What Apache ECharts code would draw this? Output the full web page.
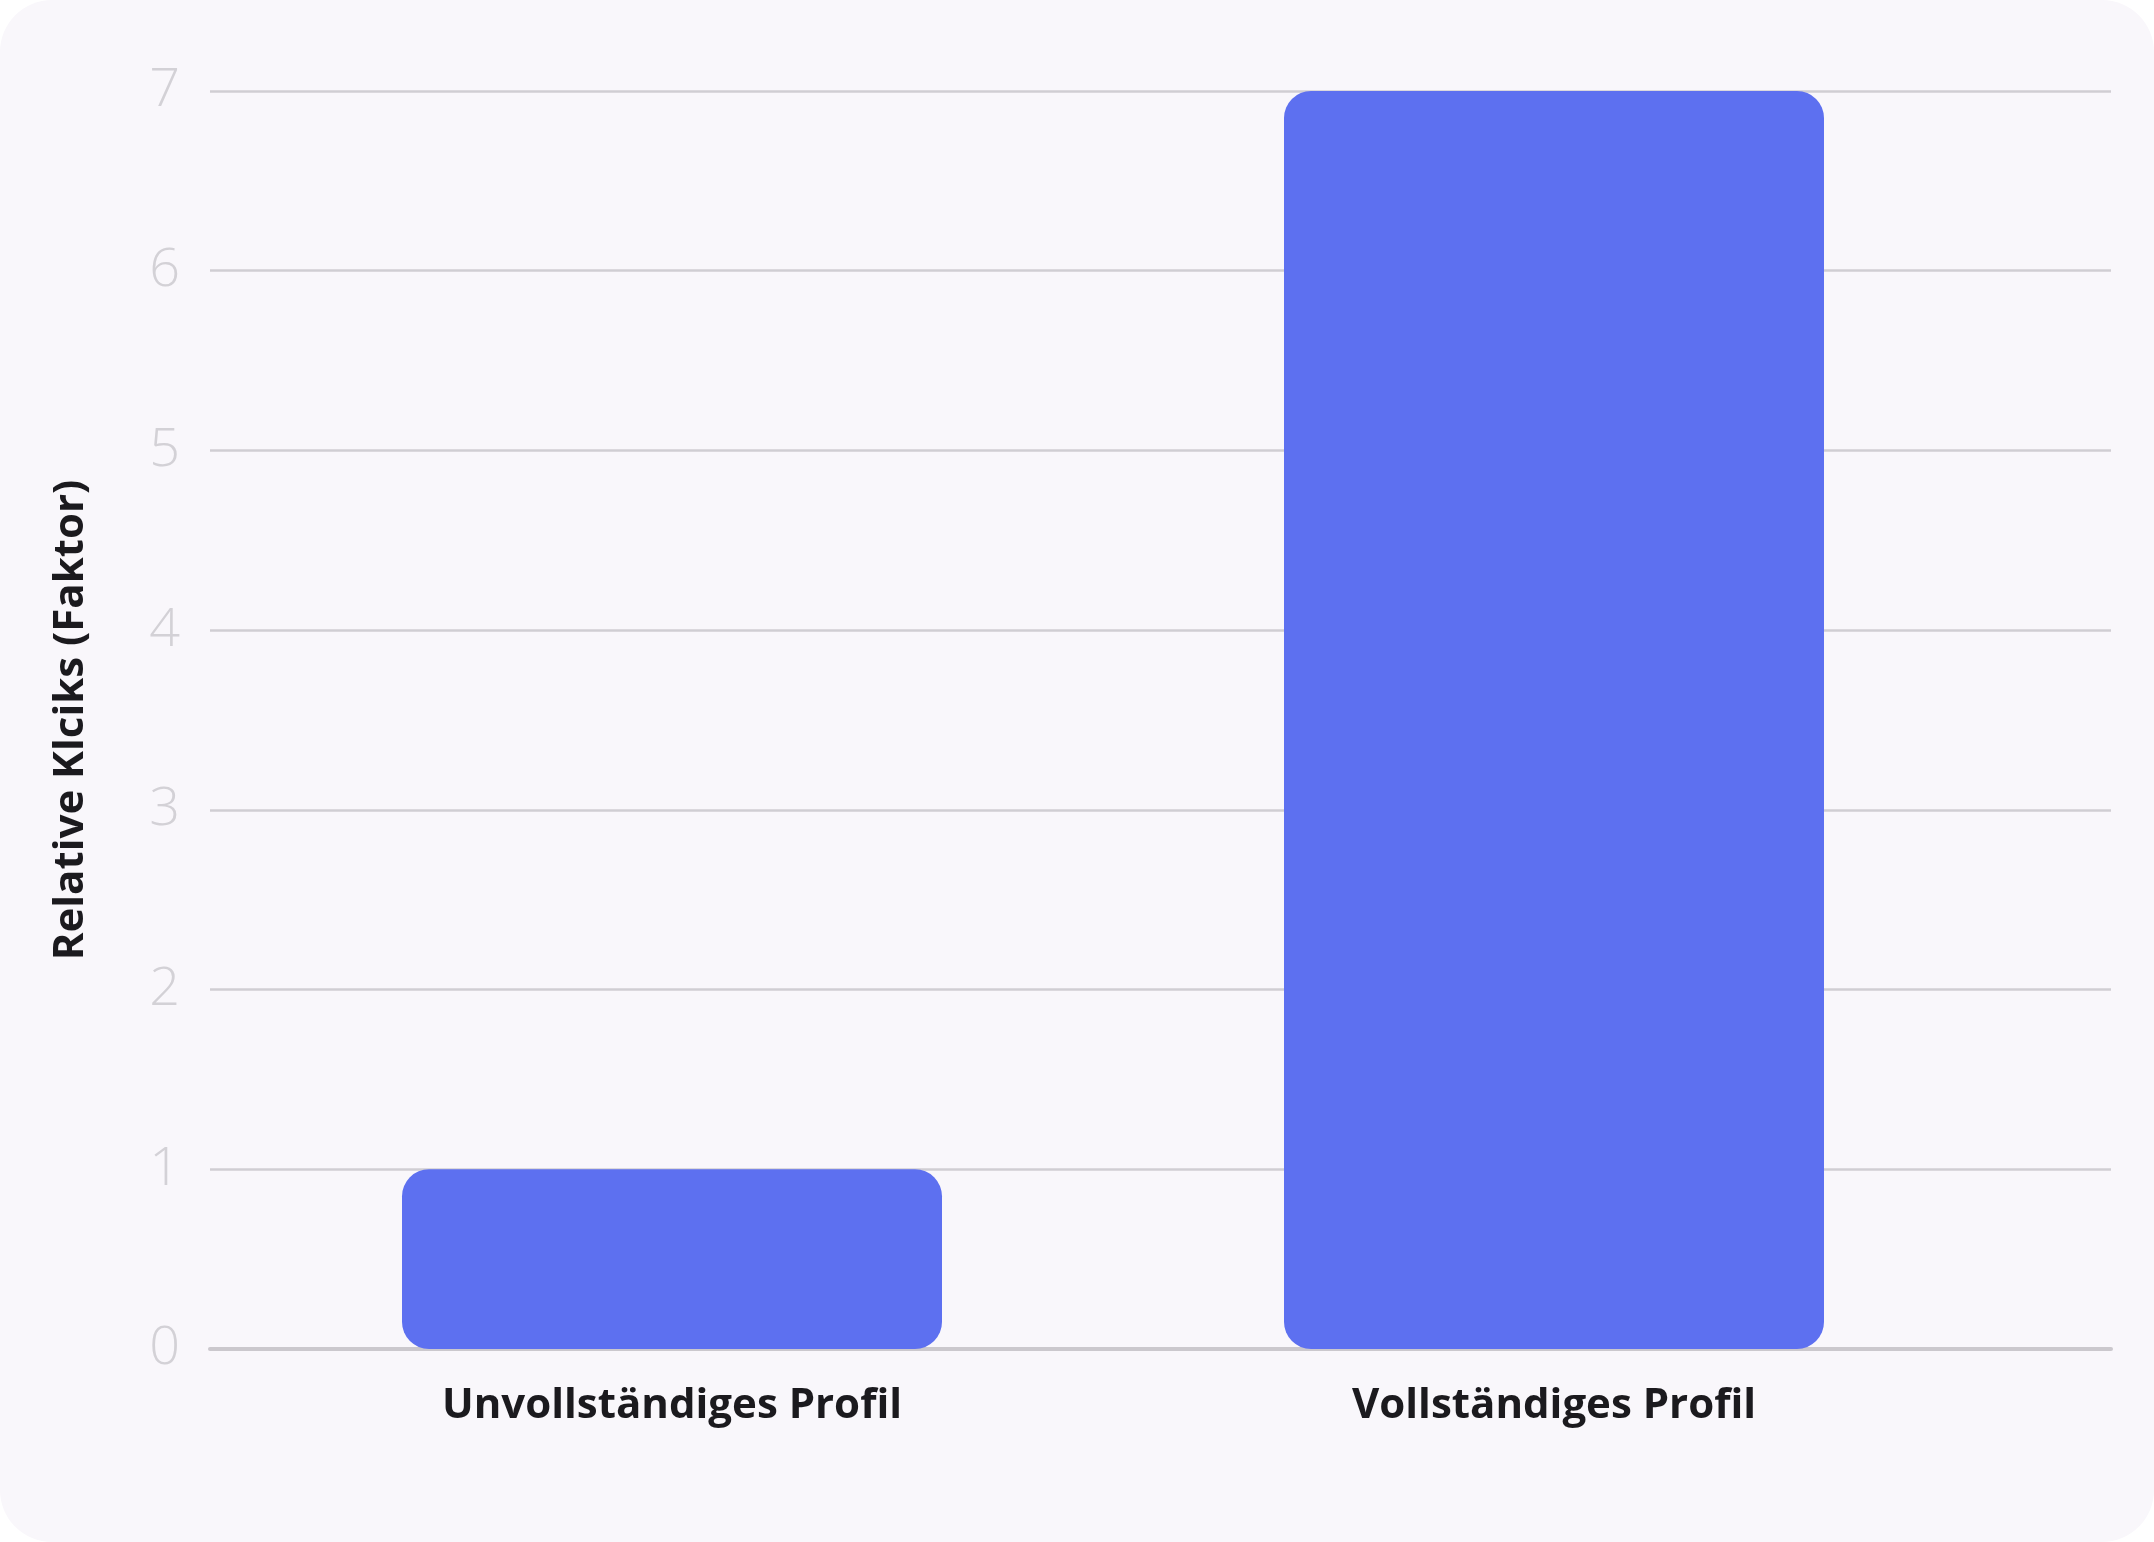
<!DOCTYPE html>
<html>
<head>
<meta charset="utf-8">
<script src="https://cdn.jsdelivr.net/npm/echarts@6/dist/echarts.min.js"></script>
<style>
html,body{margin:0;padding:0;background:#ffffff;}
#chart{width:2154px;height:1542px;background:#F9F7FB;border-radius:52px;overflow:hidden;}
</style>
</head>
<body>
<div id="chart"></div>
<script>
const categories = ['Unvollständiges Profil', 'Vollständiges Profil'];
const values = [1, 7];
const yTicks = [0, 1, 2, 3, 4, 5, 6, 7];
const yAxisTitle = 'Relative Klciks (Faktor)';

const chart = echarts.init(document.getElementById('chart'), null, {renderer: 'canvas'});
const yMin = yTicks[0], yMax = yTicks[yTicks.length - 1];
chart.setOption({
  backgroundColor: 'transparent',
  animation: false,
  grid: [
    {left: 210, right: 43, top: 91, bottom: 193},
    {left: 231, right: 159, top: 91, bottom: 193}
  ],
  xAxis: [
    {
      gridIndex: 0, type: 'category', data: categories,
      axisLabel: {show: false}, axisTick: {show: false},
      axisLine: {show: true, lineStyle: {color: '#CBC8CD', width: 4}},
      splitLine: {show: false}
    },
    {
      gridIndex: 1, type: 'category', data: categories,
      axisLine: {show: false}, axisTick: {show: false},
      axisLabel: {
        show: true, margin: 36, color: '#1B1A1E',
        fontFamily: 'Open Sans', fontWeight: 700, fontSize: 42
      }
    }
  ],
  yAxis: [
    {
      gridIndex: 0, type: 'value', min: yMin, max: yMax, interval: 1,
      axisLine: {show: false}, axisTick: {show: false},
      axisLabel: {
        margin: 30, color: '#D3D1D6', fontFamily: 'Open Sans',
        fontWeight: 300, fontSize: 54, padding: [14, 0, 0, 0]
      },
      splitLine: {show: true, lineStyle: {color: '#D0CED3', width: 2.5}},
      name: yAxisTitle, nameLocation: 'middle', nameGap: 118, nameRotate: 90,
      nameTextStyle: {
        color: '#1B1A1E', fontFamily: 'Open Sans', fontWeight: 700, fontSize: 42
      }
    },
    {
      gridIndex: 1, type: 'value', min: yMin, max: yMax, interval: 1, show: false
    }
  ],
  series: [
    {
      type: 'bar', xAxisIndex: 1, yAxisIndex: 1,
      data: values, barWidth: 540,
      itemStyle: {color: '#5D70F0', borderRadius: 27}
    }
  ]
});
</script>
</body>
</html>
